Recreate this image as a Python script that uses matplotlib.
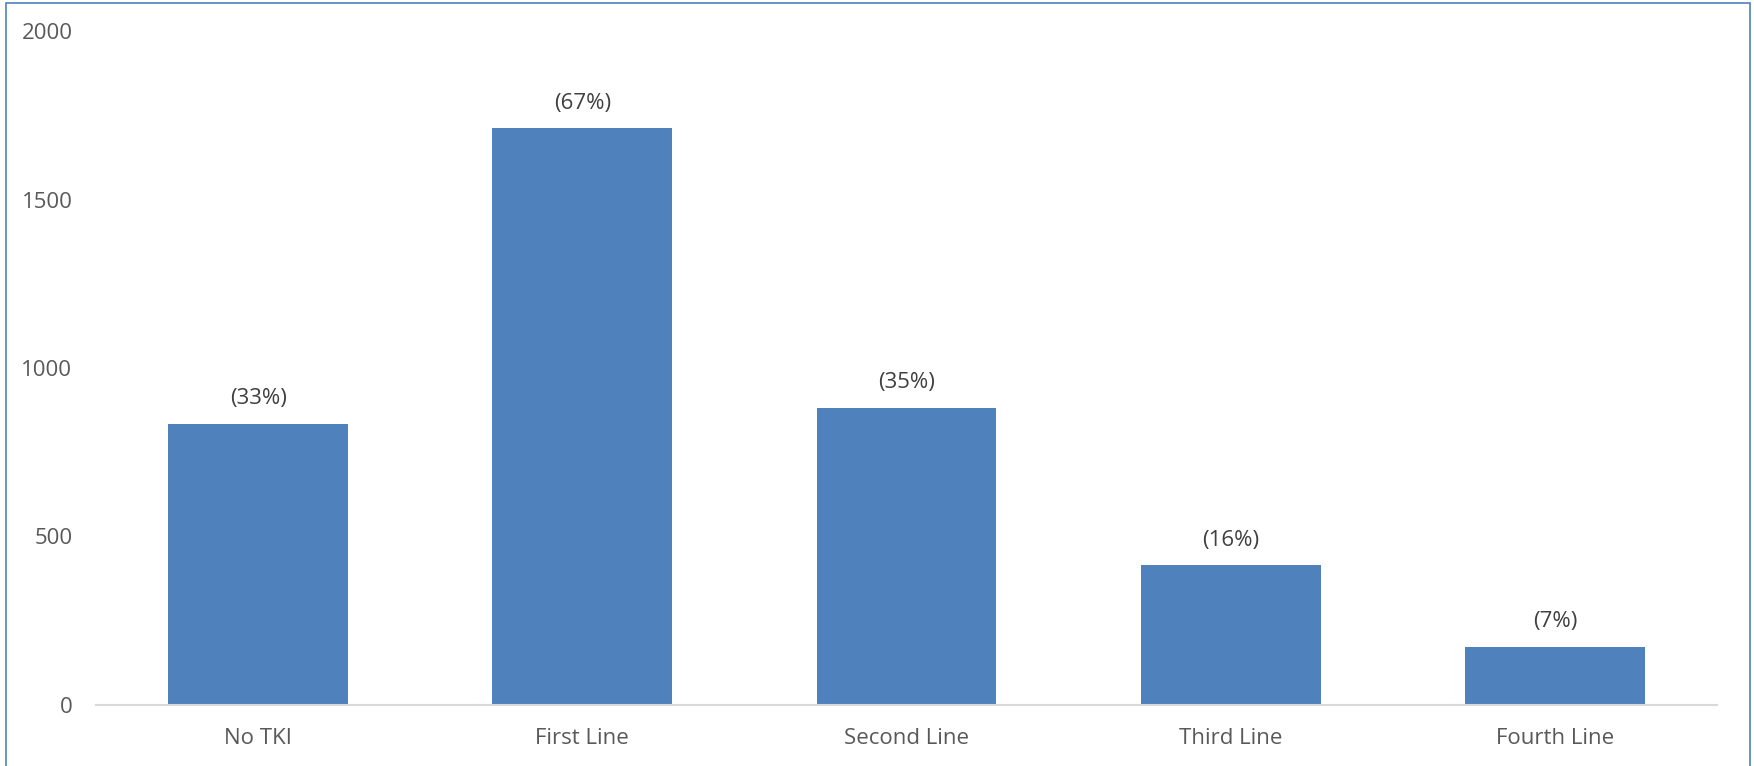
import matplotlib.pyplot as plt
from matplotlib.patches import Rectangle

categories = ['No TKI', 'First Line', 'Second Line', 'Third Line', 'Fourth Line']
counts = [834, 1712, 882, 415, 173]
pct_labels = ['(33%)', '(67%)', '(35%)', '(16%)', '(7%)']
y_ticks = [0, 500, 1000, 1500, 2000]

plt.rcParams['font.family'] = ['Open Sans', 'DejaVu Sans']

fig = plt.figure(figsize=(17.54, 7.66), dpi=100)
ax = fig.add_axes([96 / 1754, 61 / 766, 1621 / 1754, 674 / 766])

x = range(len(categories))
bars = ax.bar(x, counts, width=0.555, color='#4f81bd')

# percentage labels above bars
for b, lab in zip(bars, pct_labels):
    ax.annotate(lab, (b.get_x() + b.get_width() / 2, b.get_height()),
                xytext=(0, 25), textcoords='offset pixels',
                ha='center', va='center', fontsize=16, color='#404040')

ax.set_xlim(-0.5, 4.5)
ax.set_ylim(0, 2000)
ax.set_yticks(y_ticks)
ax.set_xticks(list(x))
ax.set_xticklabels(categories)
ax.tick_params(axis='both', length=0, labelsize=16, labelcolor='#595959')
ax.tick_params(axis='x', pad=16.5)
ax.tick_params(axis='y', pad=17)

for s in ['top', 'right', 'left']:
    ax.spines[s].set_visible(False)
ax.spines['bottom'].set_color('#d9d9d9')
ax.spines['bottom'].set_linewidth(1.5)

# chart area border
fig.patches.append(Rectangle((6 / 1754, -0.05), 1744 / 1754, 1.05 - 3 / 766,
                             transform=fig.transFigure, fill=False,
                             edgecolor='#4f81bd', linewidth=1.2))

fig.savefig('out.png', dpi=100)
